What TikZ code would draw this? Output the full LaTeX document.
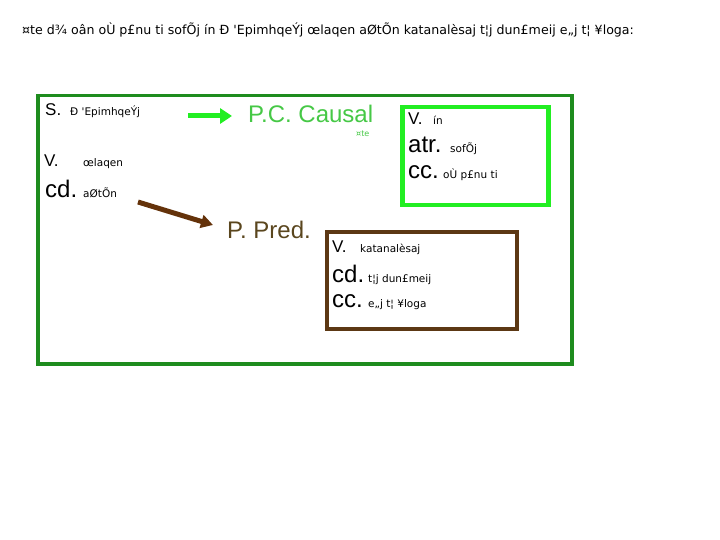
\documentclass[tikz,border=0pt]{standalone}
\usepackage{fontspec}
\setmainfont{Liberation Sans}
\newfontfamily\gkfont{DejaVu Sans}
\usetikzlibrary{arrows.meta}
\definecolor{dkgreen}{RGB}{30,140,30}
\definecolor{ltgreen}{RGB}{34,238,34}
\definecolor{txtgreen}{RGB}{70,200,70}
\definecolor{brownbox}{RGB}{92,56,20}
\definecolor{brownarrow}{RGB}{100,50,10}
\definecolor{predbrown}{RGB}{90,70,30}
\tikzset{
  big/.style={anchor=base west, inner sep=0pt, font=\fontsize{24}{24}\selectfont},
  mid/.style={anchor=base west, inner sep=0pt, font=\fontsize{17}{17}\selectfont},
  gk/.style={anchor=base west, inner sep=0pt, font=\gkfont\fontsize{10.5}{11}\selectfont},
  frame/.style={anchor=north west, inner sep=0pt, fill=none},
}
\begin{document}
\begin{tikzpicture}[x=1pt,y=-1pt]
\useasboundingbox (0,0) rectangle (720,540);
% top line
\node[gk, font=\gkfont\fontsize{12.6}{13}\selectfont] (title) at (22,35) {¤te d¾ oân oÙ p£nu ti sofÕj ín Ð 'EpimhqeÝj œlaqen aØtÕn katanalèsaj t¦j dun£meij e„j t¦ ¥loga:};
% frames
\node[frame, draw=dkgreen, line width=3.5pt, minimum width=534pt, minimum height=268pt] (outer) at (36,94) {};
\node[frame, draw=ltgreen, line width=4.5pt, minimum width=146pt, minimum height=98pt] (pcbox) at (400,105) {};
\node[frame, draw=brownbox, line width=3.5pt, minimum width=190pt, minimum height=97pt] (predbox) at (325,230) {};
% left texts
\node[mid] (S) at (45,116) {S.};
\node[gk] (Sg) at (70,116) {Ð 'EpimhqeÝj};
\node[mid] (V) at (44,167) {V.};
\node[gk] (Vg) at (83,167) {œlaqen};
\node[big] (cd) at (45,198) {cd.};
\node[gk] (cdg) at (83,198) {aØtÕn};
% P.C. Causal
\node[big, text=txtgreen] (pc) at (248,123) {P.C. Causal};
\node[gk, text=txtgreen, font=\gkfont\fontsize{8}{8}\selectfont] (pcg) at (356,137) {¤te};
% green box texts
\node[mid] (V2) at (408,125) {V.};
\node[gk] (V2g) at (433,125) {ín};
\node[big] (atr) at (408,153) {atr.};
\node[gk] (atrg) at (450,153) {sofÕj};
\node[big] (cc2) at (408,179) {cc.};
\node[gk] (cc2g) at (443,179) {oÙ p£nu ti};
% P. Pred.
\node[big, text=predbrown] (pp) at (227,239) {P. Pred.};
% brown box texts
\node[mid] (V3) at (332,252) {V.};
\node[gk] (V3g) at (360,252) {katanalèsaj};
\node[big] (cd3) at (332,282) {cd.};
\node[gk] (cd3g) at (368,282) {t¦j dun£meij};
\node[big] (cc3) at (332,307) {cc.};
\node[gk] (cc3g) at (368,307) {e„j t¦ ¥loga};
% arrows
\coordinate (ga) at (188,116);
\coordinate (gb) at (232,116);
\draw[ltgreen, line width=5pt, -{Triangle[width=15pt,length=12pt]}] (ga) -- (gb);
\coordinate (ba) at (138,202);
\coordinate (bb) at (213,225);
\draw[brownarrow, line width=5pt, -{Triangle[width=13pt,length=12pt]}] (ba) -- (bb);
\end{tikzpicture}
\end{document}
